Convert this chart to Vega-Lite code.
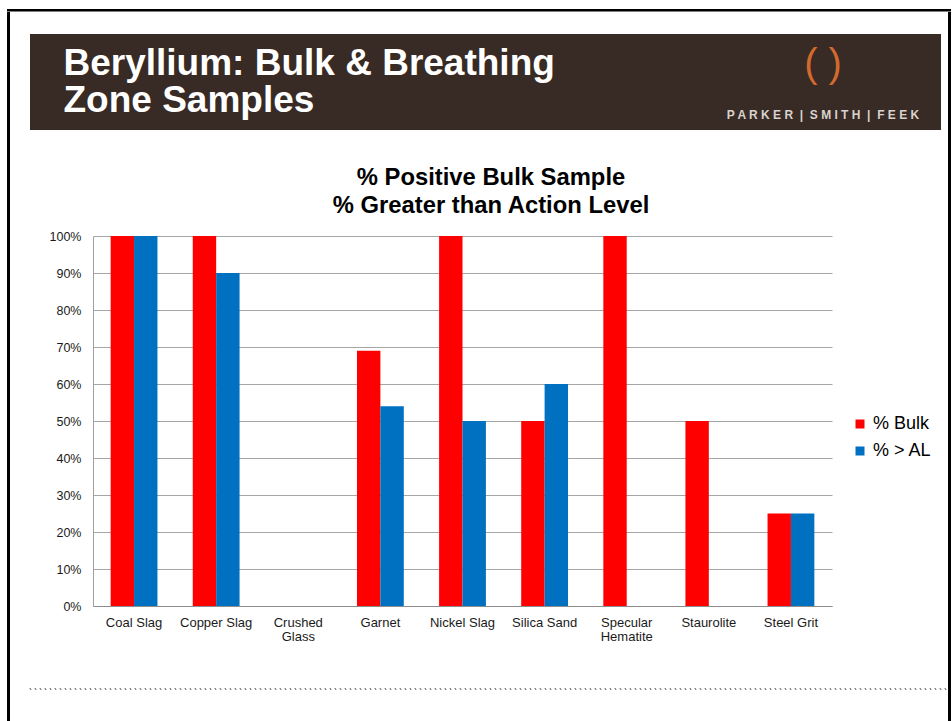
{
  "$schema": "https://vega.github.io/schema/vega-lite/v6.json",
  "background": "white",
  "padding": {"left": 7, "top": 9, "right": 0, "bottom": 0},
  "config": {"font": "Liberation Sans", "view": {"stroke": null}},
  "datasets": {
    "rates": [
      {"material": "Coal Slag", "series": "% Bulk", "value": 1.0},
      {"material": "Coal Slag", "series": "% > AL", "value": 1.0},
      {"material": "Copper Slag", "series": "% Bulk", "value": 1.0},
      {"material": "Copper Slag", "series": "% > AL", "value": 0.9},
      {"material": "Crushed Glass", "series": "% Bulk", "value": 0.0},
      {"material": "Crushed Glass", "series": "% > AL", "value": 0.0},
      {"material": "Garnet", "series": "% Bulk", "value": 0.69},
      {"material": "Garnet", "series": "% > AL", "value": 0.54},
      {"material": "Nickel Slag", "series": "% Bulk", "value": 1.0},
      {"material": "Nickel Slag", "series": "% > AL", "value": 0.5},
      {"material": "Silica Sand", "series": "% Bulk", "value": 0.5},
      {"material": "Silica Sand", "series": "% > AL", "value": 0.6},
      {"material": "Specular Hematite", "series": "% Bulk", "value": 1.0},
      {"material": "Specular Hematite", "series": "% > AL", "value": 0.0},
      {"material": "Staurolite", "series": "% Bulk", "value": 0.5},
      {"material": "Staurolite", "series": "% > AL", "value": 0.0},
      {"material": "Steel Grit", "series": "% Bulk", "value": 0.25},
      {"material": "Steel Grit", "series": "% > AL", "value": 0.25}
    ]
  },
  "spacing": 0,
  "bounds": "flush",
  "vconcat": [
    {"width": 944, "height": 2.5, "data": {"values": []}, "mark": "point", "view": {"fill": "#000000"}},
    {
      "spacing": 0,
      "bounds": "flush",
      "hconcat": [
        {"width": 3, "height": 712, "data": {"values": []}, "mark": "point", "view": {"fill": "#000000"}},
        {
          "spacing": 0,
          "bounds": "flush",
          "vconcat": [
            {"width": 938, "height": 21.5, "data": {"values": []}, "mark": "point"},
            {
              "spacing": 0,
              "bounds": "flush",
              "hconcat": [
                {"width": 20, "height": 96, "data": {"values": []}, "mark": "point"},
                {
                  "width": 701, "height": 96,
                  "data": {"values": []}, "mark": "point",
                  "view": {"fill": "#382a24"},
                  "title": {
                    "text": ["Beryllium: Bulk & Breathing", "Zone Samples"],
                    "orient": "top", "anchor": "start", "frame": "group",
                    "offset": 0, "dx": 33.5, "dy": 85.5,
                    "fontSize": 37, "lineHeight": 37, "fontWeight": "bold",
                    "font": "Liberation Sans", "color": "#ffffff"
                  }
                },
                {
                  "width": 210, "height": 96,
                  "data": {"values": []}, "mark": "point",
                  "view": {"fill": "#382a24"},
                  "title": {
                    "text": "( )",
                    "subtitle": "P A R K E R\u00a0\u00a0|\u00a0\u00a0S M I T H\u00a0\u00a0|\u00a0\u00a0F E E K",
                    "orient": "top", "anchor": "middle", "frame": "group",
                    "offset": 0, "dx": -13, "dy": 87,
                    "fontSize": 40, "fontWeight": "normal", "color": "#d2692e",
                    "font": "Liberation Sans",
                    "subtitleFont": "Liberation Sans", "subtitleFontSize": 12,
                    "subtitleFontWeight": "bold", "subtitleColor": "#d9d3cd",
                    "subtitlePadding": 25
                  }
                }
              ]
            },
            {"width": 1, "height": 202, "data": {"values": []}, "mark": "point"},
            {
              "spacing": 0,
              "bounds": "flush",
              "hconcat": [
                {"width": 83, "height": 370, "data": {"values": []}, "mark": "point"},
                {
                  "width": 739, "height": 370,
                  "data": {"name": "rates"},
                  "title": {
                    "text": ["% Positive Bulk Sample", "% Greater than Action Level"],
                    "anchor": "middle", "frame": "group", "offset": 12, "dx": 28.5,
                    "fontSize": 23.8, "lineHeight": 28, "fontWeight": "bold",
                    "font": "Liberation Sans", "color": "#000000"
                  },
                  "mark": {"type": "bar"},
                  "encoding": {
                    "x": {
                      "field": "material", "type": "nominal", "sort": null,
                      "scale": {"paddingInner": 0.43, "paddingOuter": 0.215},
                      "axis": {
                        "title": null, "labelAngle": 0, "ticks": false,
                        "labelFontSize": 13, "labelColor": "#1a1a1a", "labelPadding": 10,
                        "labelLineHeight": 14, "domainColor": "#8c8c8c",
                        "labelExpr": "datum.label == 'Crushed Glass' || datum.label == 'Specular Hematite' ? split(datum.label, ' ') : datum.label"
                      }
                    },
                    "xOffset": {"field": "series", "type": "nominal", "sort": ["% Bulk", "% > AL"]},
                    "y": {
                      "field": "value", "type": "quantitative",
                      "scale": {"domain": [0, 1]},
                      "axis": {
                        "title": null, "values": [0, 0.1, 0.2, 0.3, 0.4, 0.5, 0.6, 0.7, 0.8, 0.9, 1],
                        "format": ".0%", "ticks": false, "labelFontSize": 12.5,
                        "labelColor": "#1a1a1a", "labelPadding": 12,
                        "domainColor": "#a0a0a0", "gridColor": "#a6a6a6", "gridOpacity": 1
                      }
                    },
                    "color": {
                      "field": "series", "type": "nominal",
                      "scale": {"domain": ["% Bulk", "% > AL"], "range": ["#ff0000", "#0070c0"]},
                      "legend": {
                        "title": null, "orient": "none", "legendX": 844, "legendY": 406,
                        "symbolType": "square", "symbolSize": 81, "symbolStrokeWidth": 0,
                        "labelFontSize": 18, "labelColor": "#000000", "labelOffset": 4,
                        "rowPadding": 9
                      }
                    }
                  }
                }
              ]
            },
            {"width": 1, "height": 452, "data": {"values": []}, "mark": "point"},
            {
              "spacing": 0,
              "bounds": "flush",
              "hconcat": [
                {"width": 19, "height": 1, "data": {"values": []}, "mark": "point"},
                {"width": 918, "height": 1, "data": {"values": []}, "mark": "point",
                 "view": {"stroke": "#8a8a8a", "strokeDash": [1.5, 3.5], "strokeWidth": 1}}
              ]
            }
          ]
        },
        {"width": 938, "height": 1, "data": {"values": []}, "mark": "point"},
        {"width": 3, "height": 712, "data": {"values": []}, "mark": "point", "view": {"fill": "#000000"}}
      ]
    }
  ]
}
